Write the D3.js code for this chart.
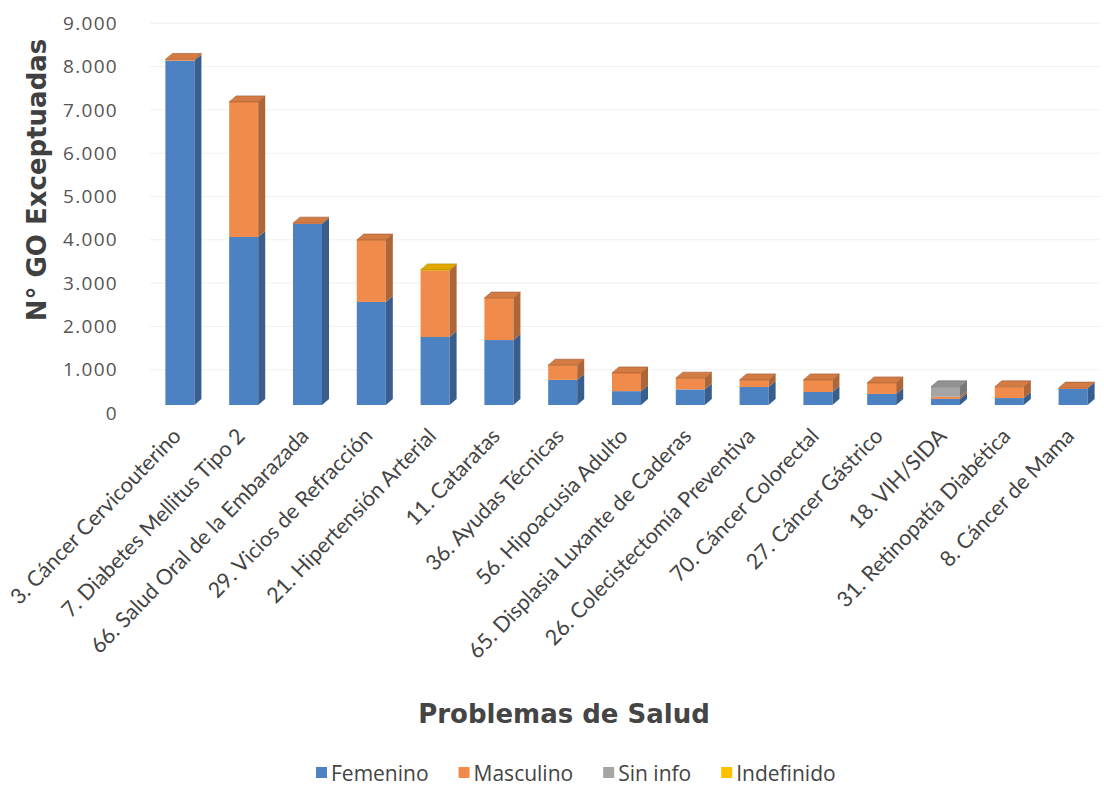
<!DOCTYPE html>
<html>
<head>
<meta charset="utf-8">
<script src="https://cdn.jsdelivr.net/npm/d3@7"></script>
<style>
  body { margin: 0; background: #fff; }
  svg { display: block; }
</style>
</head>
<body>
<div id="chart"></div>
<script>
// datos
const categorias = [
  "3. Cáncer Cervicouterino", "7. Diabetes Mellitus Tipo 2", "66. Salud Oral de la Embarazada",
  "29. Vicios de Refracción", "21. Hipertensión Arterial", "11. Cataratas", "36. Ayudas Técnicas",
  "56. Hipoacusia Adulto", "65. Displasia Luxante de Caderas", "26. Colecistectomía Preventiva",
  "70. Cáncer Colorectal", "27. Cáncer Gástrico", "18. VIH/SIDA", "31. Retinopatía Diabética",
  "8. Cáncer de Mama"
];
const femenino   = [7950, 3880, 4180, 2380, 1570, 1500, 580, 320, 360, 415, 300, 255, 140, 160, 380];
const masculino  = [30, 3120, 20, 1430, 1535, 970, 340, 420, 260, 165, 280, 255, 50, 260, 10];
const sinInfo    = [0, 0, 0, 0, 0, 0, 0, 0, 0, 0, 0, 0, 230, 0, 0];
const indefinido = [0, 0, 0, 0, 15, 0, 0, 0, 0, 0, 0, 0, 0, 0, 0];
const series = ["Femenino", "Masculino", "Sin info", "Indefinido"];
const yTicks = [0, 1000, 2000, 3000, 4000, 5000, 6000, 7000, 8000, 9000];

const colores = {"Femenino": "#4c82c2", "Masculino": "#f08b4c", "Sin info": "#a5a5a5", "Indefinido": "#ffc000"};

const W = 1104, H = 787;
const dx = 7, dy = -6;   // profundidad 3d

const svg = d3.select("#chart").append("svg").attr("width", W).attr("height", H);

const filas = categorias.map((c, i) => ({
  cat: c, "Femenino": femenino[i], "Masculino": masculino[i],
  "Sin info": sinInfo[i], "Indefinido": indefinido[i]
}));

const x = d3.scaleBand().domain(categorias).range([148, 1105])
  .paddingInner(0.545).paddingOuter(0.2725);
const y = d3.scaleLinear().domain([0, 9000]).range([405, 405 - 9 * 43.3]);

// grid
svg.append("g").selectAll("line").data(yTicks.slice(1)).enter().append("line")
  .attr("x1", 150).attr("x2", 1100)
  .attr("y1", d => y(d) + 8).attr("y2", d => y(d) + 8)
  .attr("stroke", "#f0f0f0").attr("stroke-width", 1);

// eje y
svg.append("g").selectAll("text").data(yTicks).enter().append("text")
  .attr("x", 118).attr("y", d => y(d) + 8).attr("dy", "0.35em")
  .attr("text-anchor", "end")
  .style("font-family", "'Open Sans', sans-serif").style("font-size", "19px")
  .style("letter-spacing", "1.3px").style("fill", "#555")
  .text(d => d3.format(",")(d).replace(/,/g, "."));

svg.append("text")
  .attr("transform", "translate(46,180) rotate(-90)")
  .attr("text-anchor", "middle")
  .style("font-family", "'DejaVu Sans', sans-serif").style("font-weight", "bold")
  .style("font-size", "26px").style("fill", "#404040")
  .text("N° GO Exceptuadas");

// barras
const stack = d3.stack().keys(series);
const capas = stack(filas);

const gBars = svg.append("g");
capas.forEach(capa => {
  const col = colores[capa.key];
  const g = gBars.append("g");
  capa.forEach((d, i) => {
    if (d[1] - d[0] <= 0) return;
    const x0 = x(d.data.cat), x1 = x0 + x.bandwidth();
    const yb = y(d[0]), yt = y(d[1]);
    g.append("rect").attr("x", x0).attr("y", yt).attr("width", x1 - x0).attr("height", Math.max(yb - yt, 0.8))
      .attr("fill", col);
    g.append("polygon")
      .attr("points", [[x1, yt], [x1 + dx, yt + dy], [x1 + dx, yb + dy], [x1, yb]].join(" "))
      .attr("fill", d3.color(col).darker(0.9));
  });
});

// caras superiores
filas.forEach(f => {
  const total = series.reduce((s, k) => s + f[k], 0);
  const topKey = series.filter(k => f[k] > 0).pop();
  const x0 = x(f.cat), x1 = x0 + x.bandwidth(), yt = y(total);
  svg.append("polygon")
    .attr("points", [[x0, yt], [x0 + dx, yt + dy], [x1 + dx, yt + dy], [x1, yt]].join(" "))
    .attr("fill", d3.color(colores[topKey]).darker(0.35))
    .attr("stroke", d3.color(colores[topKey]).darker(1.2)).attr("stroke-width", 0.6);
});

// etiquetas x
svg.append("g").selectAll("text").data(categorias).enter().append("text")
  .attr("transform", d => `translate(${x(d) + x.bandwidth() / 2 - 3},${432}) rotate(-46)`)
  .attr("text-anchor", "end").attr("dy", "0.35em")
  .style("font-family", "Lato, sans-serif").style("font-size", "21.5px").style("fill", "#444")
  .text(d => d);

svg.append("text")
  .attr("x", 564).attr("y", 723).attr("text-anchor", "middle")
  .style("font-family", "'DejaVu Sans', sans-serif").style("font-weight", "bold")
  .style("font-size", "26px").style("fill", "#454545")
  .text("Problemas de Salud");

// leyenda
const leg = svg.append("g");
let lx = 316;
series.forEach(s => {
  leg.append("rect").attr("x", lx).attr("y", 767).attr("width", 11).attr("height", 11).attr("fill", colores[s]);
  const t = leg.append("text").attr("x", lx + 15).attr("y", 781)
    .style("font-family", "'Open Sans', sans-serif").style("font-size", "21px").style("fill", "#444")
    .text(s);
  lx += 15 + t.node().getComputedTextLength() + 30;
});
</script>
</body>
</html>
